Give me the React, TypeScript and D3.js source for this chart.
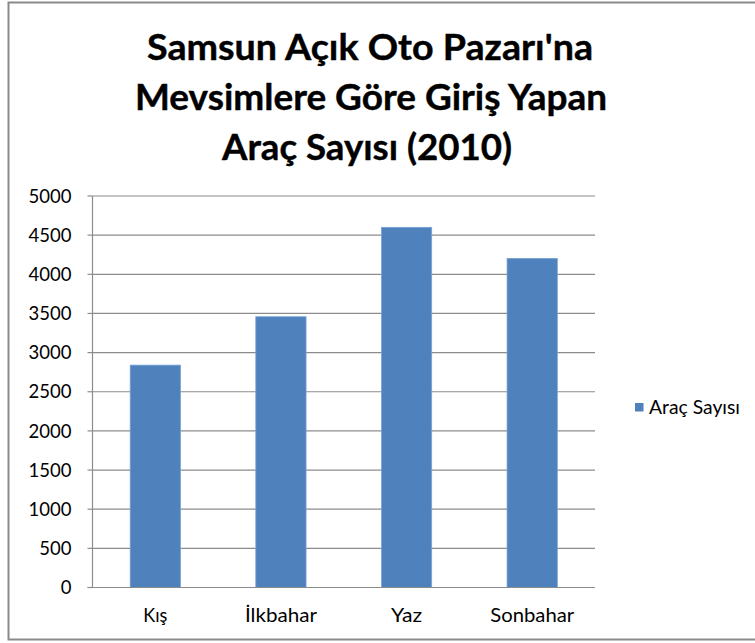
import React from "react";
import * as d3 from "d3";

const categories = ["Kış", "İlkbahar", "Yaz", "Sonbahar"];
const values = [2840, 3458, 4600, 4203];
const yTicks = [0, 500, 1000, 1500, 2000, 2500, 3000, 3500, 4000, 4500, 5000];
const titleLines = ["Samsun Açık Oto Pazarı'na", "Mevsimlere Göre Giriş Yapan", "Araç Sayısı (2010)"];
const seriesName = "Araç Sayısı";

const W = 755;
const H = 643;
const plot = { left: 92.5, right: 595, top: 196, bottom: 587.5 };
const font = "Lato, 'Open Sans', sans-serif";

export default function App() {
  const x = d3
    .scaleBand<string>()
    .domain(categories)
    .range([plot.left, plot.right])
    .paddingInner(0.6)
    .paddingOuter(0.3);
  const y = d3.scaleLinear().domain([0, 5000]).range([plot.bottom, plot.top]);

  const titleW = [446, 472, 290];
  const titleY = [60, 110, 160];
  const titleX = [370, 371, 367];
  const labelW: Record<string, number> = { "Kış": 24, "İlkbahar": 72, "Yaz": 31, "Sonbahar": 84 };

  return (
    <svg
      width={W}
      height={H}
      style={{ position: "absolute", left: 0, top: 0, background: "#fff" }}
    >
      <rect x={8.5} y={2.5} width={W + 10} height={637} fill="#fff" stroke="#8a8a8a" strokeWidth={2} />
      {titleLines.map((t, i) => (
        <text
          key={i}
          x={titleX[i]}
          y={titleY[i]}
          textAnchor="middle"
          fontFamily={font}
          fontWeight={700}
          fontSize={36}
          fill="#000"
          stroke="#000"
          strokeWidth={0.4}
          textLength={titleW[i]}
          lengthAdjust="spacingAndGlyphs"
        >
          {t}
        </text>
      ))}
      {yTicks.map((t) => (
        <g key={t}>
          {t > 0 && (
            <line x1={plot.left} x2={plot.right} y1={y(t)} y2={y(t)} stroke="#8c8c8c" strokeWidth={1.2} />
          )}
          <line x1={plot.left - 5} x2={plot.left} y1={y(t)} y2={y(t)} stroke="#8c8c8c" strokeWidth={1.2} />
          <text
            x={plot.left - 21}
            y={y(t)}
            dy="0.36em"
            textAnchor="end"
            fontFamily={font}
            fontSize={18.5}
            fill="#000"
          >
            {t}
          </text>
        </g>
      ))}
      {categories.map((c, i) => (
        <rect
          key={c}
          x={x(c)}
          y={y(values[i])}
          width={x.bandwidth()}
          height={plot.bottom - y(values[i])}
          fill="#4F81BD"
          stroke="#7aa3d4"
          strokeWidth={0.8}
        />
      ))}
      <line x1={plot.left} x2={plot.left} y1={plot.top} y2={plot.bottom} stroke="#8c8c8c" strokeWidth={1.2} />
      <line x1={plot.left - 5} x2={plot.right} y1={plot.bottom} y2={plot.bottom} stroke="#8c8c8c" strokeWidth={1.2} />
      {categories.map((c) => (
        <text
          key={c}
          x={(x(c) as number) + x.bandwidth() / 2}
          y={622}
          textAnchor="middle"
          fontFamily={font}
          fontSize={19}
          fill="#000"
          textLength={labelW[c]}
          lengthAdjust="spacingAndGlyphs"
        >
          {c}
        </text>
      ))}
      <rect x={635} y={403} width={8.5} height={8.5} fill="#4F81BD" />
      <text
        x={649}
        y={414}
        fontFamily={font}
        fontSize={19}
        fill="#000"
        textLength={91}
        lengthAdjust="spacingAndGlyphs"
      >
        {seriesName}
      </text>
    </svg>
  );
}
